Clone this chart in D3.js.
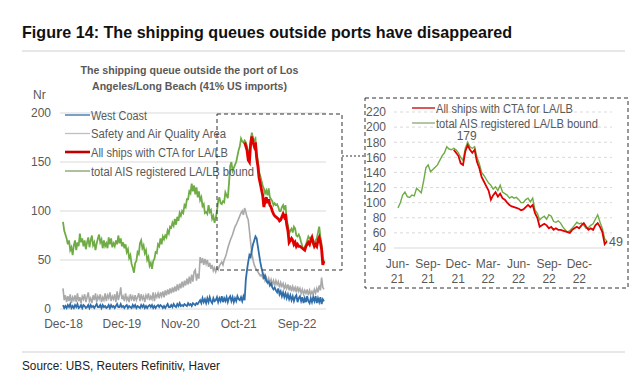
<!DOCTYPE html>
<html><head><meta charset="utf-8">
<script src="https://cdn.jsdelivr.net/npm/d3@7"></script>
<style>body{margin:0;background:#fff} text{font-family:"Liberation Sans",Arial,sans-serif}</style>
</head><body><svg id="c" width="640" height="381"></svg>
<script>
// Weekly observations starting on this date
const startDate = "2018-12-28";
const westCoast = [4,1,3,1,4,2,5,1,3,1, 4,2,5,1,2,4,1,4,3,1, 2,4,1,4,2,3,1,3,5,2, 2,4,1,4,2,3,1,2,4,1,
 4,2,3,1,3,5,2,2,5,2, 3,1,3,4,1,3,2,1,4,2, 4,1,3,2,1,4,2,4,1,3, 1,3,4,2,4,1,3,1,3,4, 2,4,3,1,3,1,3,5,2,2,
 4,2,5,3,2,5,3,6,3,4, 3,5,4,3,6,4,5,3,6,5, 4,6,5,7,9,6,11,7,10,6, 11,7,12,8,6,11,8, 9,12,7,11,8,13,7,11,8,12,
 7,11,13,8,12,7,11,8,13,10, 9,12,8,13,9,30,40,48,55,53, 60,66,70,74,72,64,56,48,42,37, 32,34,29,27,28,24,26,22,20,22,
 19,17,21,15,18,13,17,12,16,11, 15,10,14,9,13,8,12,14,7,11, 13,8,12,6,11,7,13,8,6,11, 7,12,8,13,6,11,7,12,5,10,8];
const safetyArea = [21,9,14,7,13,8,15,6,12,9, 14,7,16,8,12,6,13,10,15,7, 12,17,8,11,6,14,9,16,7,13, 10,15,7,12,9,16,8,14,11,17,
 8,13,10,15,7,18,9,14,22,10, 13,8,16,9,12,7,15,10,13,8, 14,9,12,16,8,15,10,13,7,14, 11,16,9,13,10,17,8,15,12,16,
 11,17,13,18,12,19,14,20,15,21, 16,22,17,23,18,25,19,26,21,28, 22,29,24,31,25,33,26,35,28,38, 40,29,36,31,53,47,52,45,51,46,
 50,43,47,41,45,39,42, 38,42,40,44,46,48,45,50,53,57, 62,66,70,73,76,80,84,86,89,92,
 95,98,100,96,103,99,94,91,80,68, 57,50,45,42,40,38,36,34,35,32, 35,29,32,27,31,26,30,25,29,24,
 29,25,28,22,27,23,26,20,25,21, 25,19,24,18,23,19,22,17,23,18, 21,16,20,15,19,16,20,14,19,15, 18,15,20,16,21,17,24,19,32,22,20];
const totalAIS = [89,80,76,72,66,70,60,63,55,65, 70,60,68,64,77,68,72,64,70,61, 68,73,63,70,75,65,68,60,67,72, 76,68,71,62,70,64,67,62,73,66,
 72,63,67,64,70,66,75,67,72,64, 68,62,66,58,61,52,55,46,42,37, 47,49,58,56,67,70,62,65,57,60, 50,53,44,47,41,49,51,58,57,66,
 64,72,66,74,71,75,73,80,77,84, 83,88,85,92,86,94,90,98,95,100, 98,106,104,112,112,120,118,128,120,126, 117,124,114,120,111,114,105,107,98,99,
 97,106,99,101,92,95,88, 93,100,110,114,108,107,110,109,119,116, 113,128,146,150,141,144,147,150,156,162,
 166,174,171,170,172,170,166,160,156,172, 180,174,172,174,160,152,140,136,131,126, 123,118,121,116,123,114,112,110,106,108,
 106,107,104,100,100,104,106,101,106,90, 86,77,80,82,78,84,82,75,74,76, 73,68,64,61,63,66,70,74,72,73, 70,66,67,70,72,78,84,74,66,52,49];
const ctaStartIndex = 151; // first week with CTA data
const ctaShips = [170,166,162,152,150,168,176,170,166,170, 154,146,134,128,122,116,104,110,114,108,
 112,106,104,100,97,95,94,93,92,90, 91,94,97,94,97,86,80,68,70,72, 70,66,68,64,66,64,64,63,62,61,
 60,64,66,68,66,70,73,68,64,66, 64,70,73,68,61,45,49];

const leftYTicks = [0,50,100,150,200];
const leftXTicks = ["2018-12-28","2019-12-03","2020-11-07","2021-10-13","2022-09-18"];
const rightYTicks = [40,60,80,100,120,140,160,180,200,220];
const rightXTicks = ["2021-06-01","2021-09-01","2021-12-01","2022-03-01","2022-06-01","2022-09-01","2022-12-01"];
const rightStart = "2021-06-01";
const seriesNames = ["West Coast","Safety and Air Quality Area","All ships with CTA for LA/LB","total AIS registered LA/LB bound"];
const titleText = "Figure 14: The shipping queues outside ports have disappeared";
const subTitle = ["The shipping queue outside the port of Los","Angeles/Long Beach (41% US imports)"];
const sourceText = "Source: UBS, Reuters Refinitiv, Haver";

const C = {blue:"#2f6eaa", grey:"#a9a9a9", red:"#e00000", redDark:"#c00000", green:"#6fac46", text:"#595959", grid:"#d9d9d9"};
const parse = d3.utcParse("%Y-%m-%d");
const t0 = parse(startDate);
const dates = totalAIS.map((_, i) => d3.utcDay.offset(t0, 7 * i));
const svg = d3.select("#c");

// Title & source
svg.append("text").attr("x",22).attr("y",38).text(titleText).attr("font-weight","bold").attr("font-size",16.5)
  .attr("fill","#111").attr("textLength",490).attr("lengthAdjust","spacingAndGlyphs");
svg.append("line").attr("x1",22).attr("x2",625).attr("y1",51).attr("y2",51).attr("stroke","#cfcfcf");
svg.append("line").attr("x1",22).attr("x2",625).attr("y1",352).attr("y2",352).attr("stroke","#cfcfcf");
svg.append("text").attr("x",22).attr("y",370).text(sourceText).attr("font-size",12.5).attr("fill","#222")
  .attr("textLength",198).attr("lengthAdjust","spacingAndGlyphs");

// ---------- Left chart ----------
const xL = d3.scaleUtc().domain([t0, dates[dates.length-1]]).range([63, 324]);
const yL = d3.scaleLinear().domain([0, 200]).range([309, 113]);

svg.append("g").selectAll("line").data(leftYTicks).join("line")
  .attr("x1",60).attr("x2",326).attr("y1",d=>yL(d)).attr("y2",d=>yL(d)).attr("stroke",C.grid).attr("stroke-width",1);

const axL = svg.append("g").attr("transform","translate(51,0)")
  .call(d3.axisLeft(yL).tickValues(leftYTicks).tickSize(0).tickPadding(0));
axL.select(".domain").remove();
axL.selectAll("text").attr("font-size",12).attr("fill",C.text).attr("font-family","Liberation Sans, Arial, sans-serif");

const axLB = svg.append("g").attr("transform","translate(0,316)")
  .call(d3.axisBottom(xL).tickValues(leftXTicks.map(parse)).tickFormat(d3.utcFormat("%b-%y")).tickSize(0).tickPadding(3));
axLB.select(".domain").remove();
axLB.selectAll("text").attr("font-size",12).attr("fill",C.text).attr("font-family","Liberation Sans, Arial, sans-serif");

svg.append("text").attr("x",33).attr("y",99).text("Nr").attr("font-size",12).attr("fill",C.text);
subTitle.forEach((s, k) => svg.append("text").attr("x",189.5).attr("y",74 + k*15.5).attr("text-anchor","middle")
  .text(s).attr("font-weight","bold").attr("font-size",11.5).attr("fill",C.text)
  .attr("textLength", k ? 195 : 218).attr("lengthAdjust","spacingAndGlyphs"));

const lineL = d3.line().x(d=>xL(d[0])).y(d=>yL(d[1]));
const pairs = arr => arr.map((v,i)=>[dates[i], v]);
const ctaPairs = ctaShips.map((v,i)=>[dates[ctaStartIndex+i], v]);

svg.append("path").datum(pairs(safetyArea)).attr("d",lineL).attr("fill","none").attr("stroke",C.grey).attr("stroke-width",1.6);
svg.append("path").datum(pairs(westCoast)).attr("d",lineL).attr("fill","none").attr("stroke",C.blue).attr("stroke-width",1.8);
svg.append("path").datum(pairs(totalAIS)).attr("d",lineL).attr("fill","none").attr("stroke",C.green).attr("stroke-width",1.8);
svg.append("path").datum(ctaPairs).attr("d",lineL).attr("fill","none").attr("stroke",C.red).attr("stroke-width",2.8);

// Left legend
const legCol = [C.blue, "#bfbfbf", C.redDark, "#7f9f6a"];
const legW = [1.3, 1.3, 2.6, 1.3];
const legLen = [56, 135, 137, 163];
const legY = [115, 133.5, 152, 171];
seriesNames.forEach((n,k)=>{
  svg.append("line").attr("x1",65).attr("x2",90).attr("y1",legY[k]).attr("y2",legY[k]).attr("stroke",legCol[k]).attr("stroke-width",legW[k]);
  svg.append("text").attr("x",91).attr("y",legY[k]+4.5).text(n).attr("font-size",12.5).attr("fill",C.text)
    .attr("textLength",legLen[k]).attr("lengthAdjust","spacingAndGlyphs");
});

// Dashed boxes & connector
const dash = "4,3";
svg.append("rect").attr("x",217).attr("y",114).attr("width",125).attr("height",156).attr("fill","none")
  .attr("stroke","#333").attr("stroke-dasharray",dash);
svg.append("line").attr("x1",342).attr("x2",365).attr("y1",156).attr("y2",156).attr("stroke","#333").attr("stroke-dasharray","2,2");
svg.append("rect").attr("x",365).attr("y",98).attr("width",263).attr("height",190).attr("fill","none")
  .attr("stroke","#333").attr("stroke-dasharray",dash);

// ---------- Right chart ----------
const r0 = parse(rightStart);
const xR = d3.scaleUtc().domain([r0, dates[dates.length-1]]).range([397, 607]);
const yR = d3.scaleLinear().domain([40, 220]).range([248, 112]);

svg.append("g").selectAll("line").data(rightYTicks).join("line")
  .attr("x1",394).attr("x2",612).attr("y1",d=>yR(d)).attr("y2",d=>yR(d))
  .attr("stroke",C.grid).attr("stroke-dasharray",d=>d===40?null:"3,3");

const axR = svg.append("g").attr("transform","translate(386,0)")
  .call(d3.axisLeft(yR).tickValues(rightYTicks).tickSize(0).tickPadding(0));
axR.select(".domain").remove();
axR.selectAll("text").attr("font-size",12).attr("fill",C.text).attr("font-family","Liberation Sans, Arial, sans-serif");

const axRB = svg.append("g").attr("transform","translate(0,256)")
  .call(d3.axisBottom(xR).tickValues(rightXTicks.map(parse)).tickFormat(d3.utcFormat("%b-|%y")).tickSize(0).tickPadding(3));
axRB.select(".domain").remove();
axRB.selectAll("text").attr("font-size",12).attr("fill",C.text).attr("font-family","Liberation Sans, Arial, sans-serif")
  .each(function(){
    const parts = d3.select(this).text().split("|");
    const t = d3.select(this).text(null);
    t.append("tspan").attr("x",0).text(parts[0]);
    t.append("tspan").attr("x",0).attr("dy","1.25em").text(parts[1]);
  });

const lineR = d3.line().x(d=>xR(d[0])).y(d=>yR(d[1]));
const rightGreen = pairs(totalAIS).filter(d=>d[0] >= d3.utcDay.offset(r0,-3));
svg.append("path").datum(rightGreen).attr("d",lineR).attr("fill","none").attr("stroke",C.green).attr("stroke-width",1.4);
svg.append("path").datum(ctaPairs).attr("d",lineR).attr("fill","none").attr("stroke",C.red).attr("stroke-width",1.8);

// Right legend
[[2, C.redDark, 1.3, 137, 108], [3, "#7f9f6a", 1.2, 162, 123]].forEach(([k,c,w,len,y])=>{
  svg.append("line").attr("x1",412).attr("x2",435).attr("y1",y).attr("y2",y).attr("stroke",c).attr("stroke-width",w);
  svg.append("text").attr("x",436).attr("y",y+4.5).text(seriesNames[k]).attr("font-size",12.5).attr("fill",C.text)
    .attr("textLength",len).attr("lengthAdjust","spacingAndGlyphs");
});

// Annotations
const peakIdx = totalAIS.indexOf(d3.max(totalAIS));
const peakVal = 179;
svg.append("text").attr("x",xR(dates[peakIdx])-1).attr("y",yR(peakVal)-2.5).attr("text-anchor","middle")
  .text(peakVal).attr("font-size",12).attr("fill",C.text);
const endVal = ctaShips[ctaShips.length-1];
svg.append("text").attr("x",xR(dates[dates.length-1])+2).attr("y",yR(endVal)+5)
  .text(endVal).attr("font-size",12.5).attr("fill",C.text);
</script></body></html>
